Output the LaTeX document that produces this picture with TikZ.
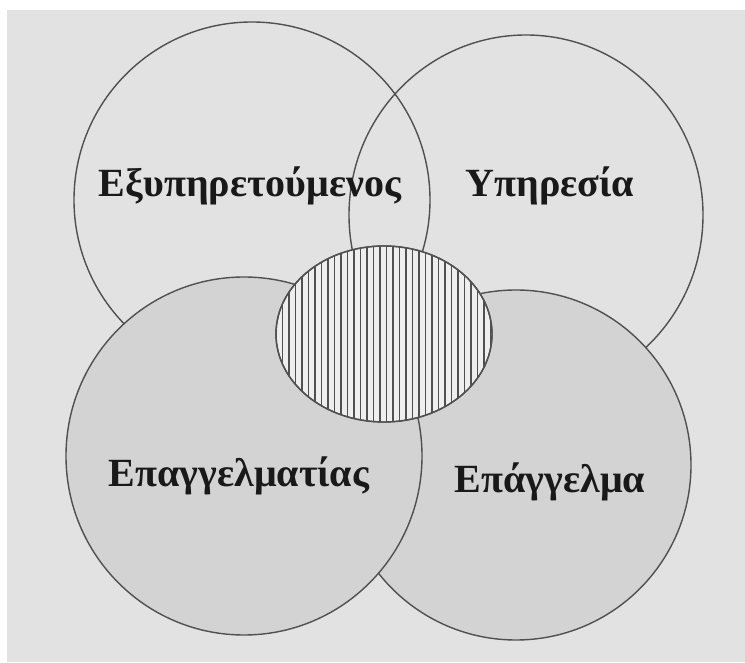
\documentclass[tikz,border=0pt]{standalone}
\usepackage{fontspec}
\setmainfont{Liberation Serif}
\usepackage{xcolor}
\definecolor{paper}{HTML}{E2E2E2}
\definecolor{shade}{HTML}{D3D3D3}
\definecolor{rim}{HTML}{505050}
\usetikzlibrary{shapes.geometric,positioning}

\begin{document}
\begin{tikzpicture}[x=1pt, y=1pt,
  ring/.style={ellipse, draw=rim, line width=1.4pt, inner sep=0pt},
  lbl/.style={font=\fontsize{40}{48}\selectfont\bfseries, text=black!90, anchor=base},
  hatch/.style={rim, line width=1.2pt}
]
  \useasboundingbox (0,0) rectangle (745,662);
  \fill[white] (0,0) rectangle (745,662);
  \fill[paper] (7,0) rectangle (745,652);

  % upper pair (open)
  \node[ring, minimum width=356pt, minimum height=356pt] (client)  at (252,462) {};
  \node[ring, minimum width=354pt, minimum height=360pt] (service) at (526,447) {};

  % lower pair (shaded, left one on top)
  \node[ring, fill=shade, minimum width=350pt, minimum height=350pt] (trade) at (516,197) {};
  \node[ring, fill=shade, minimum width=356pt, minimum height=358pt] (pro)   at (244,206) {};

  % hatched core
  \node[ring, fill=paper!60!white, minimum width=216pt, minimum height=176pt] (core) at (384,328) {};
  \begin{scope}
    \clip (core.center) ellipse [x radius=108, y radius=88];
    \foreach \x in {0,...,34}
      \draw[hatch] (276+6.5*\x,230) -- (276+6.5*\x,430);
  \end{scope}
  \node[ring, minimum width=216pt, minimum height=176pt] at (core.center) {};

  % labels
  \node[lbl] (tclient)  at (250,465) {Εξυπηρετούμενος};
  \node[lbl] (tservice) at (550,465) {Υπηρεσία};
  \node[lbl] (tpro)     at (239,175) {Επαγγελματίας};
  \node[lbl] (ttrade)   at (550,169) {Επάγγελμα};
\end{tikzpicture}
\end{document}
